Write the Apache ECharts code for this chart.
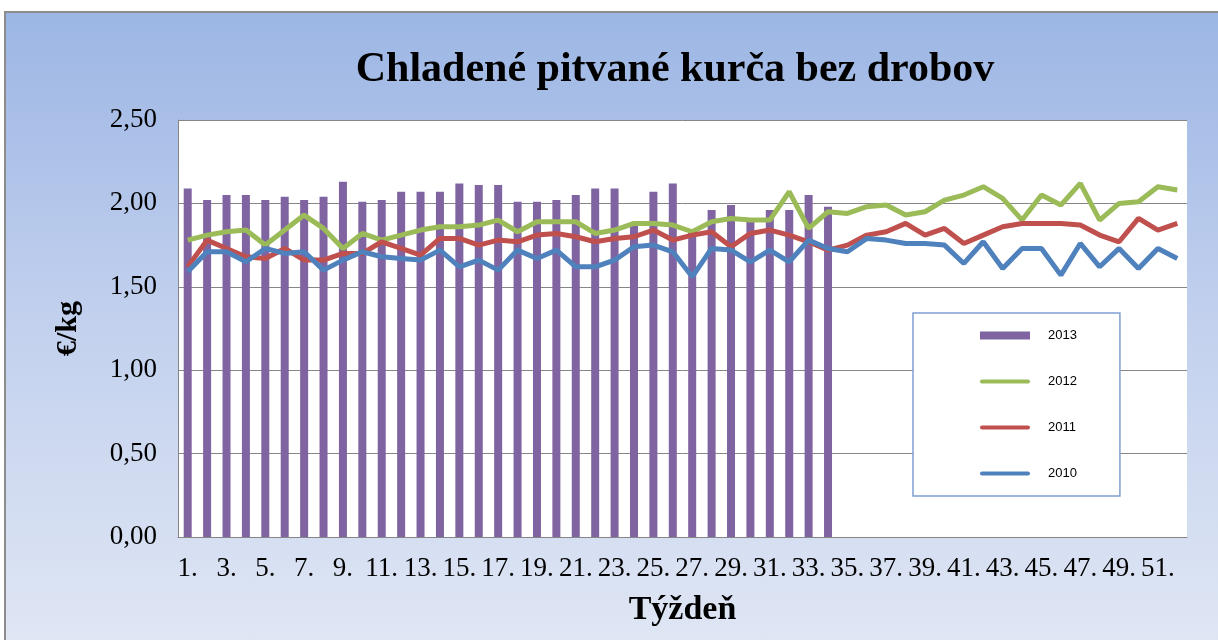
<!DOCTYPE html>
<html>
<head>
<meta charset="utf-8">
<script src="https://cdn.jsdelivr.net/npm/echarts@6/dist/echarts.min.js"></script>
<style>
  html, body { margin: 0; padding: 0; background: #fff; }
  #frame {
    position: absolute; left: 4px; top: 11px; width: 1214px; height: 629px;
    border-left: 2px solid #8c8c8c; border-top: 2px solid #8c8c8c;
    background: linear-gradient(to bottom, #9cb6e4 0%, #c3d1ee 50%, #dfe6f4 100%);
  }
  #main { position: absolute; left: 0; top: 0; width: 1218px; height: 640px; }
</style>
</head>
<body>
<div id="frame"></div>
<div id="main"></div>
<script>
// Week labels 1. .. 52.
const weeks = [];
for (let i = 1; i <= 52; i++) weeks.push(i + '.');

// 2013 only up to week 34
const y2013 = [2.09, 2.02, 2.05, 2.05, 2.02, 2.04, 2.02, 2.04, 2.13, 2.01,
  2.02, 2.07, 2.07, 2.07, 2.12, 2.11, 2.11, 2.01, 2.01, 2.02,
  2.05, 2.09, 2.09, 1.87, 2.07, 2.12, 1.83, 1.96, 1.99, 1.89,
  1.96, 1.96, 2.05, 1.98];

const y2012 = [1.78, 1.81, 1.83, 1.84, 1.75, 1.84, 1.93, 1.85, 1.73, 1.82,
  1.78, 1.81, 1.84, 1.86, 1.86, 1.87, 1.90, 1.83, 1.89, 1.89,
  1.89, 1.82, 1.84, 1.88, 1.88, 1.87, 1.83, 1.89, 1.91, 1.90,
  1.90, 2.07, 1.85, 1.95, 1.94, 1.98, 1.99, 1.93, 1.95, 2.02,
  2.05, 2.10, 2.03, 1.90, 2.05, 1.99, 2.12, 1.90, 2.00, 2.01,
  2.10, 2.08];

const y2011 = [1.62, 1.78, 1.73, 1.68, 1.67, 1.73, 1.66, 1.66, 1.70, 1.70,
  1.77, 1.73, 1.69, 1.79, 1.79, 1.75, 1.78, 1.77, 1.81, 1.82,
  1.80, 1.77, 1.79, 1.80, 1.84, 1.78, 1.81, 1.83, 1.74, 1.82,
  1.84, 1.81, 1.77, 1.72, 1.75, 1.81, 1.83, 1.88, 1.81, 1.85,
  1.76, 1.81, 1.86, 1.88, 1.88, 1.88, 1.87, 1.81, 1.77, 1.91,
  1.84, 1.88];

const y2010 = [1.59, 1.71, 1.71, 1.65, 1.73, 1.70, 1.71, 1.60, 1.66, 1.71,
  1.68, 1.67, 1.66, 1.72, 1.62, 1.66, 1.60, 1.72, 1.67, 1.72,
  1.62, 1.62, 1.66, 1.74, 1.75, 1.71, 1.56, 1.73, 1.72, 1.65,
  1.72, 1.65, 1.78, 1.73, 1.71, 1.79, 1.78, 1.76, 1.76, 1.75,
  1.64, 1.77, 1.61, 1.73, 1.73, 1.57, 1.76, 1.62, 1.73, 1.61,
  1.73, 1.67];

const serif = 'Liberation Serif';
// thin bar used as legend icon for the line series
const lineIcon = 'path://M2,0 L48,0 Q50,0 50,2 Q50,4 48,4 L2,4 Q0,4 0,2 Q0,0 2,0 Z';

const chart = echarts.init(document.getElementById('main'));

function lineSeries(name, data, color) {
  return {
    name: name,
    type: 'line',
    data: data,
    symbol: 'none',
    lineStyle: { width: 5, color: color },
    itemStyle: { color: color },
    z: 3
  };
}

const option = {
  backgroundColor: 'transparent',
  animation: false,
  title: {
    text: 'Chladené pitvané kurča bez drobov',
    left: 670,
    top: 44,
    textAlign: 'center',
    textStyle: {
      fontFamily: serif,
      fontSize: 42,
      fontWeight: 'bold',
      color: '#000'
    }
  },
  legend: {
    orient: 'vertical',
    left: 913,
    top: 313,
    padding: [16, 43, 16, 67],
    itemGap: 33,
    itemWidth: 50,
    itemHeight: 8,
    backgroundColor: '#fff',
    borderColor: '#7f9fd2',
    borderWidth: 1.5,
    borderRadius: 0,
    textStyle: {
      fontFamily: 'Liberation Sans',
      fontSize: 13,
      color: '#000',
      padding: [0, 0, 0, 13]
    },
    data: [
      { name: '2013', icon: 'rect' },
      { name: '2012', icon: lineIcon },
      { name: '2011', icon: lineIcon },
      { name: '2010', icon: lineIcon }
    ]
  },
  grid: {
    left: 178,
    top: 120,
    width: 1009,
    height: 417,
    show: true,
    backgroundColor: '#fff',
    borderWidth: 0
  },
  xAxis: {
    type: 'category',
    data: weeks,
    name: 'Týždeň',
    nameLocation: 'middle',
    nameGap: 56,
    nameTextStyle: {
      fontFamily: serif,
      fontSize: 34,
      fontWeight: 'bold',
      color: '#000'
    },
    axisLine: { lineStyle: { color: '#868686', width: 1 } },
    axisTick: { show: false },
    axisLabel: {
      interval: 1,
      margin: 18,
      fontFamily: serif,
      fontSize: 27,
      color: '#000'
    }
  },
  yAxis: {
    type: 'value',
    min: 0,
    max: 2.5,
    interval: 0.5,
    name: '€/kg',
    nameLocation: 'middle',
    nameGap: 95,
    nameTextStyle: {
      fontFamily: serif,
      fontSize: 30,
      fontWeight: 'bold',
      color: '#000'
    },
    axisLine: { show: true, lineStyle: { color: '#868686', width: 1 } },
    axisTick: { show: false },
    axisLabel: {
      margin: 21,
      fontFamily: serif,
      fontSize: 27,
      color: '#000',
      formatter: function (v) { return v.toFixed(2).replace('.', ','); }
    },
    splitLine: { lineStyle: { color: '#868686', width: 1 } }
  },
  series: [
    {
      name: '2013',
      type: 'bar',
      data: y2013,
      barWidth: 8,
      itemStyle: { color: '#8064a2' },
      z: 2
    },
    lineSeries('2012', y2012, '#9bbb59'),
    lineSeries('2011', y2011, '#c0504d'),
    lineSeries('2010', y2010, '#4f81bd')
  ]
};

chart.setOption(option);
</script>
</body>
</html>
